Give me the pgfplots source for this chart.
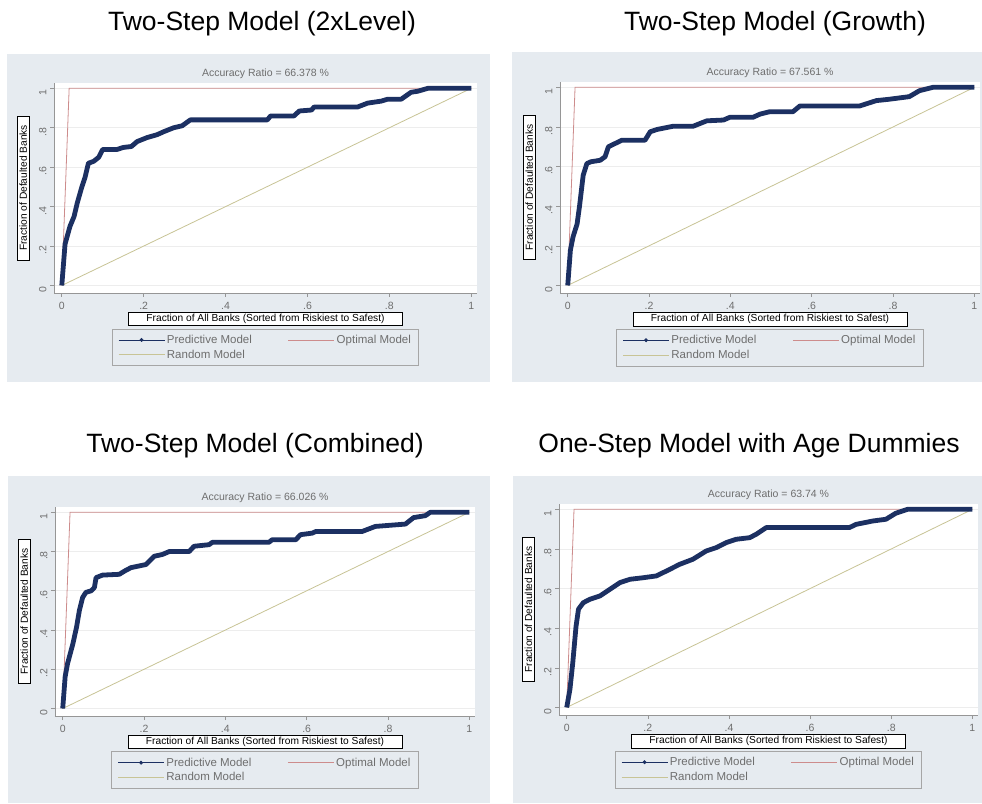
\documentclass[border=0pt]{standalone}
\usepackage{pgfplots}
\pgfplotsset{compat=1.18}
\usepackage{fontspec}
\setmainfont{Liberation Sans}
\definecolor{bg}{RGB}{230,235,240}
\definecolor{navyc}{RGB}{28,48,98}
\definecolor{optc}{RGB}{205,140,140}
\definecolor{randc}{RGB}{200,196,150}
\definecolor{tickc}{RGB}{150,150,150}
\definecolor{txtc}{RGB}{110,110,110}

\pgfplotsset{
 every axis title shift=0pt,
 roc/.style={
  scale only axis,
  anchor=south west,
  xmin=-0.019, xmax=1.014, ymin=-0.038, ymax=1.027,
  axis x line*=bottom, axis y line*=left,
  axis line style={draw=tickc, line width=0.8pt, -},
  axis background/.style={fill=white},
  xtick={0,0.2,0.4,0.6,0.8,1}, xticklabels={0,.2,.4,.6,.8,1},
  ytick={0,0.2,0.4,0.6,0.8,1}, yticklabels={0,.2,.4,.6,.8,1},
  tick align=outside, major tick length=4pt,
  tick style={draw=tickc, line width=0.6pt},
  ymajorgrids, grid style={draw=black!7, line width=0.6pt},
  tick label style={font=\fontsize{10.5}{12}\selectfont, text=txtc},
  xticklabel style={yshift=-2pt},
  yticklabel style={rotate=90, anchor=south, xshift=-4pt},
  title style={font=\fontsize{10.5}{12}\selectfont, text=txtc, at={(axis description cs:0.5,1)}, anchor=south, yshift=1pt},
  xlabel={Fraction of All Banks (Sorted from Riskiest to Safest)},
  ylabel={Fraction of Defaulted Banks},
  xlabel style={draw=black, fill=white, line width=0.6pt, font=\fontsize{10.2}{12}\selectfont, inner xsep=18pt, inner ysep=2pt, at={(axis description cs:0.5,-0.124)}, anchor=center},
  ylabel style={draw=black, fill=white, line width=0.6pt, font=\fontsize{10.2}{12}\selectfont, inner xsep=9pt, inner ysep=2.5pt, at={(axis description cs:-0.073,0.5)}, anchor=center},
  legend columns=2,
  legend cell align=left,
  legend style={at={(axis description cs:0.5,-0.259)}, anchor=center, draw=black!35, fill=bg, line width=0.8pt, font=\fontsize{11.5}{14}\selectfont, text=txtc, /tikz/every even column/.append style={column sep=34pt}, inner xsep=6pt, inner ysep=4pt, row sep=1pt},
  legend image code/.code={\draw[mark repeat=2,mark phase=2,#1] plot coordinates {(0pt,0pt) (23pt,0pt) (46pt,0pt)};},
 },
 predline/.style={navyc, line width=4.8pt, line join=round, forget plot},
 optline/.style={optc, line width=0.8pt, forget plot},
 randline/.style={randc, line width=0.8pt, forget plot},
}
\newcommand{\rocleg}{%
  \addlegendimage{navyc, line width=0.6pt, mark=*, mark size=1.6pt}
  \addlegendentry{Predictive Model}
  \addlegendimage{optc, line width=0.8pt}
  \addlegendentry{Optimal Model}
  \addlegendimage{randc, line width=0.8pt}
  \addlegendentry{Random Model}
  \addplot[optline] coordinates {(0,0) (0.018,1) (1,1)};
  \addplot[randline] coordinates {(0,0) (1,1)};
}

\begin{document}
\begin{tikzpicture}[x=1pt,y=1pt]
\useasboundingbox (0,0) rectangle (982,803);
\fill[bg] (7,421) rectangle (490,749);
\fill[bg] (512,421) rectangle (982,751);
\fill[bg] (8,0) rectangle (490,327);
\fill[bg] (513,0) rectangle (982,327);
\node[anchor=base, font=\fontsize{26.5}{30}\selectfont] at (262,772) {Two-Step Model (2xLevel)};
\node[anchor=base, font=\fontsize{26.5}{30}\selectfont] at (775,772) {Two-Step Model (Growth)};
\node[anchor=base, font=\fontsize{26.5}{30}\selectfont] at (255,350) {Two-Step Model (Combined)};
\node[anchor=base, font=\fontsize{26.5}{30}\selectfont] at (749,350) {One-Step Model with Age Dummies};

% Top left
\begin{axis}[roc, at={(54pt,510pt)}, width=423pt, height=210pt, title={Accuracy Ratio = 66.378 \%}]
\rocleg
\addplot[predline] coordinates {(0,0)(0.008,0.21)(0.02,0.30)(0.03,0.35)(0.038,0.42)(0.049,0.50)(0.057,0.55)(0.065,0.62)(0.078,0.63)(0.09,0.65)(0.10,0.69)(0.135,0.69)(0.15,0.70)(0.17,0.705)(0.184,0.73)(0.208,0.75)(0.233,0.765)(0.249,0.78)(0.273,0.80)(0.294,0.81)(0.314,0.84)(0.502,0.84)(0.51,0.86)(0.567,0.86)(0.58,0.885)(0.61,0.89)(0.616,0.905)(0.722,0.905)(0.747,0.925)(0.78,0.935)(0.796,0.945)(0.829,0.945)(0.853,0.98)(0.869,0.985)(0.894,1)(1,1)};
\end{axis}

% Top right
\begin{axis}[roc, at={(560pt,510pt)}, width=420pt, height=211pt, title={Accuracy Ratio = 67.561 \%}]
\rocleg
\addplot[predline] coordinates {(0,0)(0.0065,0.177)(0.013,0.245)(0.023,0.31)(0.029,0.40)(0.038,0.556)(0.047,0.615)(0.056,0.624)(0.08,0.632)(0.092,0.65)(0.10,0.70)(0.117,0.717)(0.133,0.733)(0.19,0.733)(0.203,0.776)(0.219,0.787)(0.26,0.804)(0.309,0.804)(0.342,0.831)(0.383,0.835)(0.399,0.849)(0.456,0.849)(0.473,0.865)(0.497,0.877)(0.554,0.877)(0.571,0.906)(0.718,0.906)(0.759,0.933)(0.791,0.94)(0.84,0.953)(0.865,0.983)(0.898,1)(1,1)};
\end{axis}

% Bottom left
\begin{axis}[roc, at={(55pt,87pt)}, width=420pt, height=209pt, title={Accuracy Ratio = 66.026 \%}]
\rocleg
\addplot[predline] coordinates {(0,0)(0.006,0.163)(0.012,0.23)(0.025,0.33)(0.034,0.415)(0.041,0.50)(0.049,0.566)(0.057,0.592)(0.07,0.60)(0.078,0.617)(0.082,0.667)(0.098,0.68)(0.139,0.684)(0.155,0.704)(0.168,0.718)(0.205,0.734)(0.225,0.776)(0.245,0.785)(0.262,0.80)(0.311,0.80)(0.323,0.827)(0.36,0.835)(0.368,0.847)(0.507,0.847)(0.515,0.86)(0.573,0.86)(0.585,0.886)(0.614,0.894)(0.622,0.902)(0.736,0.902)(0.769,0.928)(0.843,0.94)(0.863,0.973)(0.892,0.983)(0.904,1)(1,1)};
\end{axis}

% Bottom right
\begin{axis}[roc, at={(559pt,88pt)}, width=419pt, height=211pt, title={Accuracy Ratio = 63.74 \%}]
\rocleg
\addplot[predline] coordinates {(0,0)(0.008,0.092)(0.015,0.227)(0.023,0.41)(0.029,0.496)(0.041,0.529)(0.057,0.546)(0.082,0.563)(0.107,0.597)(0.131,0.63)(0.156,0.647)(0.189,0.655)(0.221,0.664)(0.246,0.689)(0.279,0.723)(0.311,0.748)(0.344,0.79)(0.369,0.807)(0.393,0.832)(0.418,0.849)(0.451,0.857)(0.467,0.874)(0.492,0.908)(0.697,0.908)(0.713,0.924)(0.754,0.941)(0.787,0.95)(0.811,0.98)(0.84,1)(1,1)};
\end{axis}
\end{tikzpicture}
\end{document}
